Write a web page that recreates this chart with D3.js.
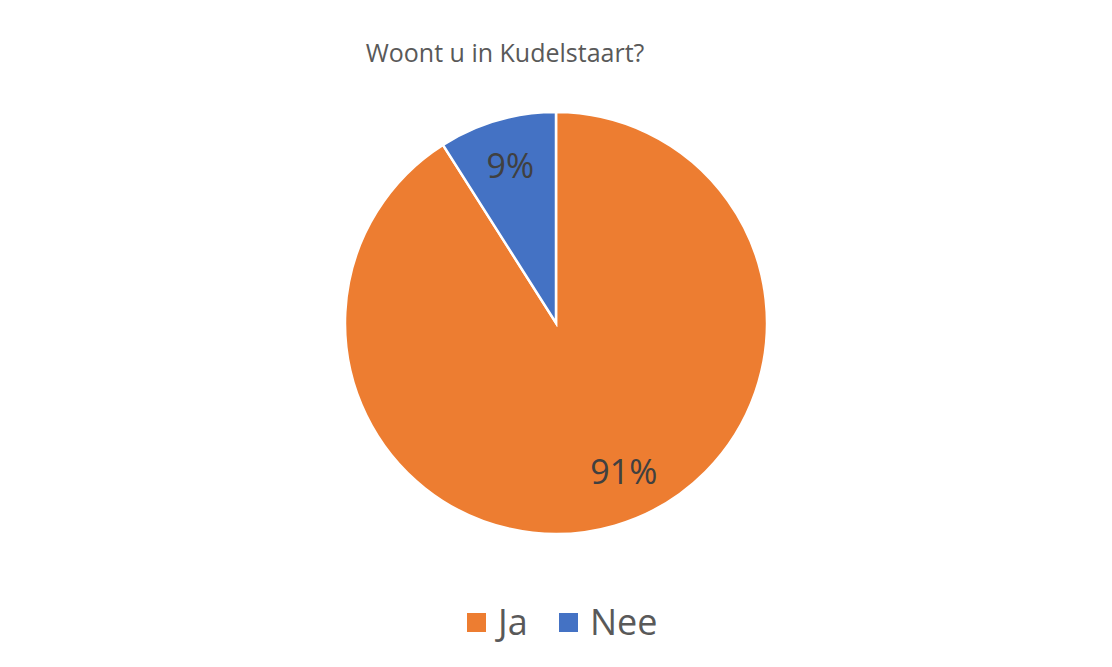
<!DOCTYPE html>
<html>
<head>
<meta charset="utf-8">
<script src="https://cdn.jsdelivr.net/npm/d3@7"></script>
<style>
  body { margin: 0; background: #fff; }
  svg { display: block; font-family: "Open Sans", "Noto Sans", sans-serif; }
</style>
</head>
<body>
<div id="chart"></div>
<script>
var categories = ["Ja", "Nee"]
var values = [91, 9]
var sliceColors = ["#ED7D31", "#4472C4"]
var title = "Woont u in Kudelstaart?"

var width = 1112, height = 667
var cx = 556, cy = 323, radius = 211

var svg = d3.select("#chart").append("svg")
    .attr("width", width)
    .attr("height", height)

svg.append("text")
    .attr("x", 505)
    .attr("y", 62)
    .attr("text-anchor", "middle")
    .style("font-size", "25px")
    .style("fill", "#595959")
    .text(title)

var data = categories.map(function(c, i) { return { name: c, value: values[i] } })
var total = d3.sum(values)

var pie = d3.pie()
    .sort(null)
    .value(function(d) { return d.value })

var arc = d3.arc().innerRadius(0).outerRadius(radius)

var g = svg.append("g")
    .attr("transform", "translate(" + cx + "," + cy + ")")

var slices = g.selectAll(".slice")
    .data(pie(data))
    .enter().append("g")
    .attr("class", "slice")

slices.append("path")
    .attr("d", arc)
    .attr("fill", function(d, i) { return sliceColors[i] })
    .attr("stroke", "#fff")
    .attr("stroke-width", 2.5)

// label along mid angle; the big slice's label is pulled back a bit like Excel's best fit
slices.append("text")
    .attr("transform", function(d) {
        var a = (d.startAngle + d.endAngle) / 2
        if (d.endAngle - d.startAngle > Math.PI) a -= 0.145
        var r = radius * 0.775
        return "translate(" + (Math.sin(a) * r) + "," + (-Math.cos(a) * r) + ")"
    })
    .attr("text-anchor", "middle")
    .attr("dy", "0.36em")
    .style("font-size", "34px")
    .style("fill", "#404040")
    .text(function(d) { return Math.round(d.value / total * 100) + "%" })

// legend
var legend = svg.append("g")
    .attr("transform", "translate(467,613)")

var item = legend.selectAll(".item")
    .data(categories)
    .enter().append("g")
    .attr("class", "item")
    .attr("transform", function(d, i) { return "translate(" + (i * 92) + ",0)" })

item.append("rect")
    .attr("width", 19)
    .attr("height", 19)
    .attr("fill", function(d, i) { return sliceColors[i] })

item.append("text")
    .attr("x", 31)
    .attr("y", 22)
    .style("font-size", "36px")
    .style("fill", "#595959")
    .text(function(d) { return d })
</script>
</body>
</html>
